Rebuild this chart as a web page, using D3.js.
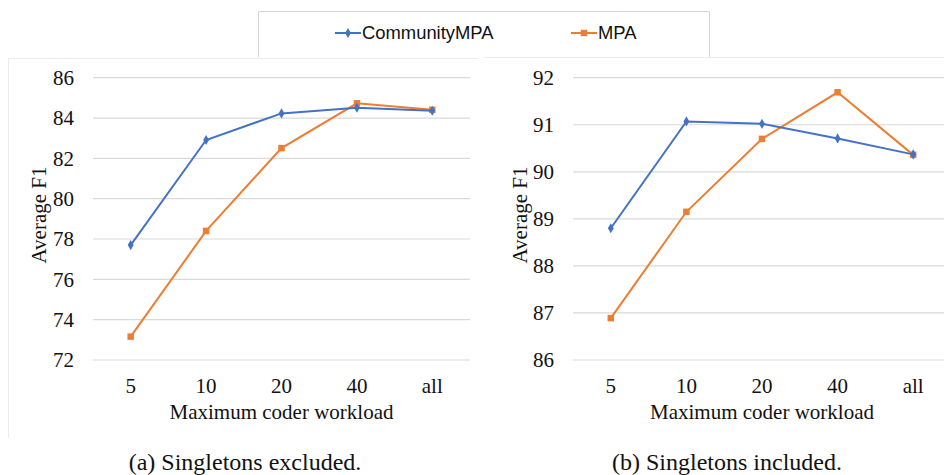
<!DOCTYPE html>
<html lang="en">
  <head>
    <meta charset="utf-8">
    <title>Average F1 vs maximum coder workload</title>
    <script src="https://cdn.jsdelivr.net/npm/d3@7"></script>
    <style>
      body { margin: 0; background: white; }
    </style>
  </head>
  <body>
    <svg width="944" height="475"></svg>
    <script>
      // data
      var workloads = ["5", "10", "20", "40", "all"];
      var seriesNames = ["CommunityMPA", "MPA"];

      var excludedCommunity = [77.7, 82.91, 84.23, 84.51, 84.36];
      var excludedMPA = [73.16, 78.4, 82.51, 84.73, 84.41];
      var excludedTicks = [72, 74, 76, 78, 80, 82, 84, 86];

      var includedCommunity = [88.8, 91.07, 91.02, 90.71, 90.37];
      var includedMPA = [86.89, 89.15, 90.7, 91.69, 90.36];
      var includedTicks = [86, 87, 88, 89, 90, 91, 92];

      var blue = "#4472C4";
      var orange = "#ED7D31";
      var serif = "'Liberation Serif', 'Times New Roman', serif";
      var sans = "'Liberation Sans', Arial, sans-serif";
      var svg = d3.select("svg");

      // faint frame of the chart areas
      svg.append("path")
        .attr("d", "M8.5,438 V58.5 H478")
        .attr("fill", "none").attr("stroke", "#ececec");
      svg.append("path")
        .attr("d", "M484,57.5 H944")
        .attr("fill", "none").attr("stroke", "#ececec");

      // legend box
      svg.append("path")
        .attr("d", "M258.5,57 V11.5 H709.5 V57")
        .attr("fill", "none").attr("stroke", "#d4d4d4");

      var legend = [
        {name: seriesNames[0], color: blue, shape: d3.symbolDiamond, x0: 335, size: 30},
        {name: seriesNames[1], color: orange, shape: d3.symbolSquare, x0: 571, size: 42}
      ];
      legend.forEach(function(l) {
        svg.append("line").attr("x1", l.x0).attr("x2", l.x0 + 26)
          .attr("y1", 33).attr("y2", 33)
          .attr("stroke", l.color).attr("stroke-width", 2);
        svg.append("path").attr("d", d3.symbol().type(l.shape).size(l.size)())
          .attr("transform", "translate(" + (l.x0 + 13) + ",33)")
          .attr("fill", l.color);
        svg.append("text").attr("font-family", sans).attr("fill", "#111")
          .attr("x", l.x0 + 27).attr("y", 33).attr("dy", "0.35em")
          .attr("font-size", 18.4).text(l.name);
      });

      function drawChart(opts) {
        var x = d3.scalePoint().domain(workloads)
          .range([opts.left, opts.right]).padding(0.5);
        var y = d3.scaleLinear().domain(opts.domain).range([360, 77.7]);

        var g = svg.append("g").attr("font-family", serif).attr("fill", "#111");

        g.selectAll(".grid").data(opts.ticks).enter().append("line")
          .attr("x1", opts.left).attr("x2", opts.right)
          .attr("y1", function(d) { return y(d); })
          .attr("y2", function(d) { return y(d); })
          .attr("stroke", "#d9d9d9").attr("stroke-width", 1.2);

        g.selectAll(".ytick").data(opts.ticks).enter().append("text")
          .attr("x", opts.left - 19).attr("y", function(d) { return y(d); })
          .attr("dy", "0.35em").attr("text-anchor", "end")
          .attr("font-size", 21).text(function(d) { return d; });

        g.selectAll(".xtick").data(workloads).enter().append("text")
          .attr("x", function(d) { return x(d); }).attr("y", 393)
          .attr("text-anchor", "middle")
          .attr("font-size", 21).text(function(d) { return d; });

        g.append("text")
          .attr("x", (opts.left + opts.right) / 2).attr("y", 419)
          .attr("text-anchor", "middle").attr("font-size", 21)
          .text("Maximum coder workload");

        g.append("text")
          .attr("transform", "translate(" + opts.ylabelX + ",215) rotate(-90)")
          .attr("text-anchor", "middle").attr("dy", "0.35em")
          .attr("font-size", 21).text("Average F1");

        g.append("text")
          .attr("x", opts.captionX).attr("y", 470)
          .attr("text-anchor", "middle").attr("font-size", 24)
          .text(opts.caption);

        var line = d3.line()
          .x(function(d, i) { return x(workloads[i]); })
          .y(function(d) { return y(d); });

        [
          {values: opts.mpa, color: orange, shape: d3.symbolSquare, size: 42},
          {values: opts.community, color: blue, shape: d3.symbolDiamond, size: 30}
        ].forEach(function(s) {
          g.append("path").datum(s.values)
            .attr("d", line).attr("fill", "none")
            .attr("stroke", s.color).attr("stroke-width", 2);
          g.selectAll(null).data(s.values).enter().append("path")
            .attr("d", d3.symbol().type(s.shape).size(s.size)())
            .attr("transform", function(d, i) {
              return "translate(" + x(workloads[i]) + "," + y(d) + ")";
            })
            .attr("fill", s.color);
        });
      }

      drawChart({
        left: 93, right: 470, domain: [72, 86], ticks: excludedTicks,
        community: excludedCommunity, mpa: excludedMPA,
        ylabelX: 39, caption: "(a) Singletons excluded.", captionX: 245
      });
      drawChart({
        left: 573, right: 951, domain: [86, 92], ticks: includedTicks,
        community: includedCommunity, mpa: includedMPA,
        ylabelX: 520, caption: "(b) Singletons included.", captionX: 727
      });
    </script>
  </body>
</html>
